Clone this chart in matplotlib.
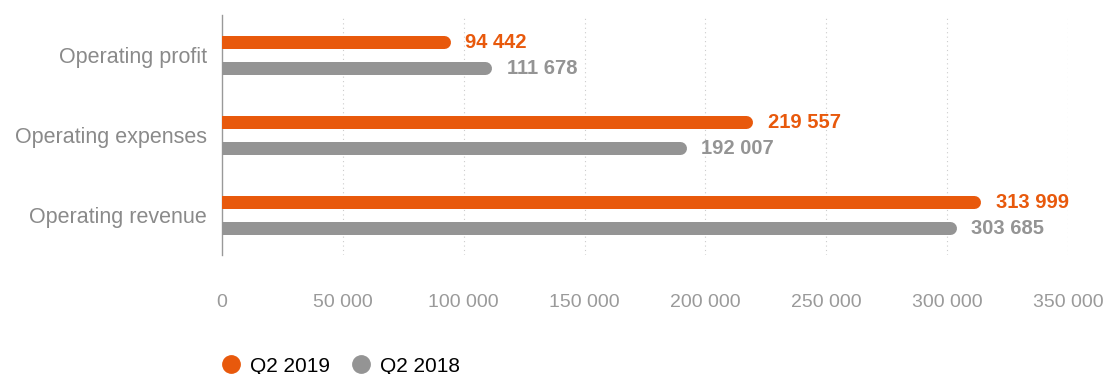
import numpy as np
import matplotlib.pyplot as plt
from matplotlib.lines import Line2D

categories = ['Operating revenue', 'Operating expenses', 'Operating profit']
q2_2019 = [313999, 219557, 94442]
q2_2018 = [303685, 192007, 111678]
series_names = ['Q2 2019', 'Q2 2018']
xticks = [0, 50000, 100000, 150000, 200000, 250000, 300000, 350000]

orange = '#e8590c'
grey = '#949494'
plt.rcParams['font.family'] = ['Liberation Sans', 'DejaVu Sans']

W, H = 1107, 374
fig = plt.figure(figsize=(W / 100, H / 100), dpi=100)
ax = fig.add_axes([222 / W, 1 - 255 / H, (1068 - 222) / W, 240 / H])
ax.set_xlim(0, 350000)
ax.set_ylim(-0.5, 2.5)

lw_px = 13
r = (lw_px / 2) * 350000 / (1068 - 222)  # half cap in data units
off = 13 / 80.0

y = np.arange(len(categories))
for yi, v1, v2 in zip(y, q2_2019, q2_2018):
    ax.plot([0, v1 - r], [yi + off, yi + off], color=orange, lw=lw_px * 0.72,
            solid_capstyle='round', zorder=3)
    ax.plot([0, v2 - r], [yi - off, yi - off], color=grey, lw=lw_px * 0.72,
            solid_capstyle='round', zorder=3)
    ax.annotate(f'{v1:,}'.replace(',', ' '), (v1, yi + off), xytext=(15, 0),
                textcoords='offset pixels', va='center', ha='left',
                color=orange, fontsize=14.5, fontweight='bold')
    ax.annotate(f'{v2:,}'.replace(',', ' '), (v2, yi - off), xytext=(15, 0),
                textcoords='offset pixels', va='center', ha='left',
                color=grey, fontsize=14.5, fontweight='bold')

ax.set_yticks(y)
ax.set_yticklabels(categories, fontsize=15.5, color='#8a8a8a')
ax.set_xticks(xticks)
ax.set_xticklabels([f'{t:,}'.replace(',', ' ') for t in xticks], fontsize=14, color='#9a9a9a')
ax.tick_params(axis='both', length=0)
ax.tick_params(axis='x', pad=28)
ax.tick_params(axis='y', pad=11)

for t in xticks[1:]:
    ax.axvline(t, color='#cccccc', lw=0.8, ls=(0, (1, 3)), zorder=1)
for s in ['top', 'right', 'bottom']:
    ax.spines[s].set_visible(False)
ax.spines['left'].set_color('#999999')
ax.spines['left'].set_linewidth(1)

handles = [Line2D([], [], marker='o', ls='none', color=orange, markersize=12.5),
           Line2D([], [], marker='o', ls='none', color=grey, markersize=12.5)]
fig.legend(handles, series_names, loc='center left', bbox_to_anchor=(221.5 / W, 1 - 366 / H),
           ncol=2, frameon=False, fontsize=15, handlelength=0.9, handletextpad=0.46,
           columnspacing=1.04, borderaxespad=0, borderpad=0)

fig.savefig('out.png', dpi=100)
